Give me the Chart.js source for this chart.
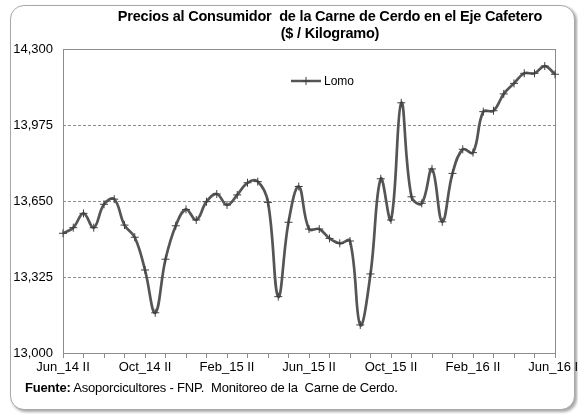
<!DOCTYPE html>
<html>
<head>
<meta charset="utf-8">
<script src="https://cdn.jsdelivr.net/npm/chart.js@4/dist/chart.umd.min.js"></script>
<style>
  html, body { margin:0; padding:0; background:#fff; width:578px; height:414px; overflow:hidden; }
  #frame { position:absolute; left:10px; top:5px; width:563px; height:403px; border:1px solid #a8a8a8; border-radius:14px; box-shadow:2px 2px 3px rgba(0,0,0,0.35); background:#fff; }
  #wrap { position:absolute; left:0; top:0; width:578px; height:414px; }
  #title { position:absolute; left:80px; width:500px; top:8px; text-align:center; font:bold 14.5px 'Liberation Sans', Arial, sans-serif; line-height:17px; color:#000; white-space:nowrap; letter-spacing:-0.2px; }
  #foot { position:absolute; left:25px; top:380px; font:13px 'Liberation Sans', Arial, sans-serif; color:#000; white-space:nowrap; letter-spacing:-0.2px; }
</style>
</head>
<body>
<div id="frame"></div>
<div id="wrap"><canvas id="c" width="578" height="414"></canvas></div>
<div id="title">Precios al Consumidor&nbsp; de la Carne de Cerdo en el Eje Cafetero<br>($ / Kilogramo)</div>
<div id="foot"><b>Fuente:</b> Asoporcicultores - FNP.&nbsp; Monitoreo de la&nbsp; Carne de Cerdo.</div>
<script>
const months = ['Jun_14','Jul_14','Ago_14','Sep_14','Oct_14','Nov_14','Dic_14','Ene_15','Feb_15','Mar_15','Abr_15','May_15','Jun_15','Jul_15','Ago_15','Sep_15','Oct_15','Nov_15','Dic_15','Ene_16','Feb_16','Mar_16','Abr_16','May_16','Jun_16'];
const periods = [];
for (let i = 0; i < months.length; i++) {
  periods.push(months[i] + ' II');
  if (i < months.length - 1) periods.push(months[i + 1] + ' I');
}
const labelsShown = ['Jun_14 II','Oct_14 II','Feb_15 II','Jun_15 II','Oct_15 II','Feb_16 II','Jun_16 II'];
const lomo = [13512,13536,13597,13536,13636,13658,13547,13495,13355,13172,
              13401,13544,13614,13569,13647,13680,13633,13676,13728,13733,
              13644,13241,13559,13712,13530,13530,13490,13469,13479,13120,
              13338,13745,13569,14070,13668,13640,13787,13561,13768,13871,
              13857,14032,14036,14108,14153,14196,14196,14227,14192];
const yTicks = [13000,13325,13650,13975,14300];

Chart.defaults.font.family = "'Liberation Sans', Arial, sans-serif";
Chart.defaults.color = '#000';

const framePlugin = {
  id: 'framePlugin',
  beforeDatasetsDraw(chart) {
    const {ctx, chartArea:a} = chart;
    ctx.save();
    ctx.strokeStyle = '#8c8c8c';
    ctx.lineWidth = 1;
    ctx.setLineDash([]);
    ctx.strokeRect(Math.round(a.left)+0.5, Math.round(a.top)+0.5, Math.round(a.right-a.left), Math.round(a.bottom-a.top));
    ctx.restore();
  },
  afterDraw(chart) {
    const {ctx, chartArea:a} = chart;
    const x0 = a.left + 228, y0 = a.top + 32;
    ctx.save();
    ctx.strokeStyle = '#555';
    ctx.lineWidth = 2.5;
    ctx.beginPath(); ctx.moveTo(x0, y0); ctx.lineTo(x0 + 30, y0); ctx.stroke();
    ctx.strokeStyle = '#404040';
    ctx.lineWidth = 1;
    ctx.beginPath();
    ctx.moveTo(x0 + 15 - 4, y0); ctx.lineTo(x0 + 15 + 4, y0);
    ctx.moveTo(x0 + 15, y0 - 4); ctx.lineTo(x0 + 15, y0 + 4);
    ctx.stroke();
    ctx.fillStyle = '#000';
    ctx.font = "12px 'Liberation Sans', Arial, sans-serif";
    ctx.textBaseline = 'middle';
    ctx.fillText('Lomo', x0 + 33, y0 + 1);
    ctx.restore();
  }
};

new Chart(document.getElementById('c'), {
  type: 'line',
  data: {
    labels: periods,
    datasets: [{
      label: 'Lomo',
      data: lomo,
      borderColor: '#555',
      borderWidth: 2.7,
      tension: 0.4,
      pointStyle: 'cross',
      pointRadius: 4,
      pointBorderColor: '#404040',
      pointBorderWidth: 1,
      pointBackgroundColor: '#404040',
      fill: false
    }]
  },
  options: {
    responsive: false,
    animation: false,
    events: [],
    layout: { padding: { left: 0, top: 49, right: 23, bottom: 0 } },
    plugins: { legend: { display: false }, title: { display: false }, tooltip: { enabled: false } },
    scales: {
      x: {
        type: 'category',
        offset: false,
        border: { display: true, color: '#8c8c8c' },
        grid: {
          drawOnChartArea: false,
          drawTicks: true,
          tickLength: 5,
          tickColor: (c) => (c.index % 2 === 0 ? '#8c8c8c' : 'rgba(0,0,0,0)')
        },
        ticks: {
          autoSkip: false,
          maxRotation: 0,
          minRotation: 0,
          padding: 2,
          font: { size: 13 },
          color: '#000',
          callback: function (v, i) {
            const l = this.getLabelForValue(v);
            return labelsShown.includes(l) ? l : '';
          }
        },
        afterFit: (s) => { s.height = 61; s.paddingLeft = 0; s.paddingRight = 0; }
      },
      y: {
        min: 13000,
        max: 14300,
        border: { display: false, dash: [3, 2] },
        afterBuildTicks: (s) => { s.ticks = yTicks.map(v => ({ value: v })); },
        grid: {
          drawTicks: false,
          color: '#8c8c8c',
          lineWidth: 1
        },
        ticks: {
          padding: 10,
          font: { size: 13 },
          color: '#000',
          callback: (v) => v.toLocaleString('en-US')
        },
        afterFit: (s) => { s.width = 63; s.paddingTop = 0; s.paddingBottom = 0; }
      }
    }
  },
  plugins: [framePlugin]
});
</script>
</body>
</html>
